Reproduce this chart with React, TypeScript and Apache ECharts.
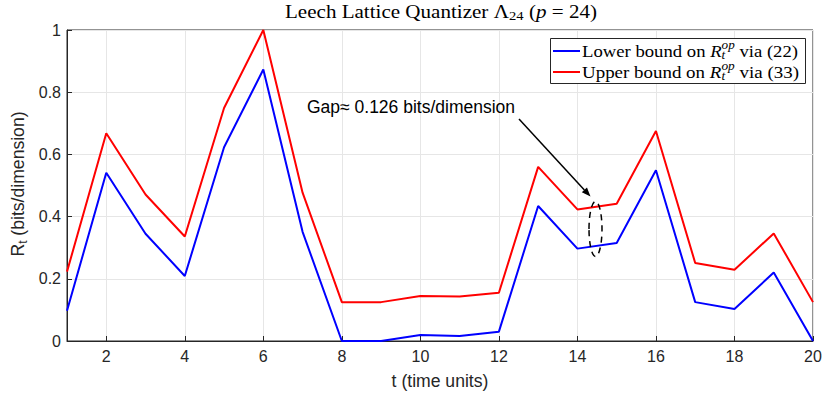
import React, { useEffect, useRef } from "react";
import * as echarts from "echarts";

const tValues = [1, 2, 3, 4, 5, 6, 7, 8, 9, 10, 11, 12, 13, 14, 15, 16, 17, 18, 19, 20];
const lowerBound = [0.097, 0.541, 0.345, 0.209, 0.623, 0.873, 0.351, 0, 0, 0.019, 0.016, 0.03, 0.434, 0.297, 0.315, 0.549, 0.125, 0.103, 0.22, 0];
const upperBound = [0.223, 0.668, 0.471, 0.336, 0.749, 1.0, 0.477, 0.125, 0.125, 0.145, 0.143, 0.155, 0.56, 0.423, 0.441, 0.675, 0.251, 0.229, 0.346, 0.125];
const xTickValues = [2, 4, 6, 8, 10, 12, 14, 16, 18, 20];
const titleParts = ["Leech Lattice Quantizer ", "Λ", "24", " (", "p", " = 24)"];
const legendLabels = ["Lower bound on ", " via (22)", "Upper bound on ", " via (33)"];
const annotationText = "Gap≈ 0.126 bits/dimension";

const SERIF = "'Liberation Serif', 'Times New Roman', serif";
const SANS = "'Liberation Sans', Arial, Helvetica, sans-serif";

type Part = { t: string; size: number; italic?: boolean; dy?: number; stack?: boolean };

let measureCtx: CanvasRenderingContext2D | null = null;
function measure(text: string, size: number, family: string, italic?: boolean) {
  if (!measureCtx) measureCtx = document.createElement("canvas").getContext("2d");
  if (!measureCtx) return text.length * size * 0.5;
  measureCtx.font = `${italic ? "italic " : ""}${size}px ${family}`;
  return measureCtx.measureText(text).width;
}

function layoutParts(parts: Part[], family: string, fill: string, z = 0) {
  let x = 0;
  let lastX = 0;
  let lastW = 0;
  const children: any[] = [];
  for (const p of parts) {
    const w = measure(p.t, p.size, family, p.italic);
    let px: number;
    if (p.stack) {
      px = lastX;
      x = lastX + Math.max(lastW, w);
    } else {
      px = x;
      lastX = x;
      lastW = w;
      x += w;
    }
    children.push({
      type: "text",
      x: px,
      y: p.dy || 0,
      z,
      style: {
        text: p.t,
        fontSize: p.size,
        fontFamily: family,
        fontStyle: p.italic ? "italic" : "normal",
        fill,
        align: "left",
        verticalAlign: "middle",
      },
    });
  }
  return { children, width: x };
}

export default function App() {
  const ref = useRef<HTMLDivElement>(null);

  useEffect(() => {
    if (!ref.current) return;
    const chart = echarts.init(ref.current, null, { renderer: "svg" });

    const title = layoutParts(
      [
        { t: titleParts[0], size: 18 },
        { t: titleParts[1], size: 18 },
        { t: titleParts[2], size: 12.5, dy: 4 },
        { t: titleParts[3], size: 18 },
        { t: titleParts[4], size: 18, italic: true },
        { t: titleParts[5], size: 18 },
      ],
      SERIF,
      "#000",
      5
    );
    const titleW = 312;
    const titleScale = titleW / title.width;

    const legendRow = (a: string, b: string) =>
      layoutParts(
        [
          { t: a, size: 17 },
          { t: "R", size: 17, italic: true },
          { t: "t", size: 12, italic: true, dy: 4 },
          { t: "op", size: 12, italic: true, dy: -6, stack: true },
          { t: b, size: 17 },
        ],
        SERIF,
        "#000",
        12
      );
    const row1 = legendRow(legendLabels[0], legendLabels[1]);
    const row2 = legendRow(legendLabels[2], legendLabels[3]);
    const s1 = 216 / row1.width;
    const s2 = 217 / row2.width;

    const ylab = layoutParts(
      [
        { t: "R", size: 17.6 },
        { t: "t", size: 12, dy: 5 },
        { t: " (bits/dimension)", size: 17.6 },
      ],
      SANS,
      "#262626",
      5
    );

    // arrow geometry
    const ax0 = 519, ay0 = 119, ax1 = 590.5, ay1 = 196.5;
    const dx = ax1 - ax0, dy = ay1 - ay0;
    const len = Math.sqrt(dx * dx + dy * dy);
    const ux = dx / len, uy = dy / len;
    const hl = 9, hw = 3.5;
    const bx = ax1 - ux * hl, by = ay1 - uy * hl;

    chart.setOption({
      animation: false,
      backgroundColor: "#fff",
      grid: {
        left: 67,
        right: 17,
        top: 30,
        bottom: 53,
        show: true,
        borderColor: "#262626",
        borderWidth: 1,
        backgroundColor: "transparent",
      },
      xAxis: {
        type: "value",
        min: 1,
        max: 20,
        name: "t (time units)",
        nameLocation: "middle",
        nameGap: 31,
        nameTextStyle: { fontSize: 17.6, fontFamily: SANS, color: "#262626" },
        axisLine: { show: true, lineStyle: { color: "#262626", width: 1 } },
        axisTick: { show: true, inside: true, length: 5, customValues: xTickValues, lineStyle: { color: "#262626" } },
        axisLabel: { customValues: xTickValues, fontSize: 16, fontFamily: SANS, color: "#262626", margin: 7 },
        splitLine: { show: true, lineStyle: { color: "#e6e6e6", width: 1 } },
      },
      yAxis: {
        type: "value",
        min: 0,
        max: 1,
        interval: 0.2,
        axisLine: { show: true, lineStyle: { color: "#262626", width: 1 } },
        axisTick: { show: true, inside: true, length: 5, lineStyle: { color: "#262626" } },
        axisLabel: {
          fontSize: 16,
          fontFamily: SANS,
          color: "#262626",
          margin: 6,
          formatter: (v: number) => String(+v.toFixed(1)),
        },
        splitLine: { show: true, lineStyle: { color: "#e6e6e6", width: 1 } },
      },
      series: [
        {
          type: "line",
          name: "lower",
          data: tValues.map((t, i) => [t, lowerBound[i]]),
          showSymbol: false,
          lineStyle: { color: "#0000ff", width: 2 },
          itemStyle: { color: "#0000ff" },
          z: 3,
        },
        {
          type: "line",
          name: "upper",
          data: tValues.map((t, i) => [t, upperBound[i]]),
          showSymbol: false,
          lineStyle: { color: "#ff0000", width: 2 },
          itemStyle: { color: "#ff0000" },
          z: 4,
        },
      ],
      graphic: [
        { type: "group", x: 441 - titleW / 2, y: 12, scaleX: titleScale, children: title.children },
        {
          type: "group",
          x: 18,
          y: 184 + ylab.width / 2,
          rotation: Math.PI / 2,
          children: ylab.children,
        },
        {
          type: "rect",
          shape: { x: 550.5, y: 38.5, width: 255, height: 45 },
          style: { fill: "#fff", stroke: "#262626", lineWidth: 1 },
          z: 10,
        },
        { type: "line", shape: { x1: 553, y1: 51, x2: 580, y2: 51 }, style: { stroke: "#0000ff", lineWidth: 2 }, z: 11 },
        { type: "line", shape: { x1: 553, y1: 72, x2: 580, y2: 72 }, style: { stroke: "#ff0000", lineWidth: 2 }, z: 11 },
        { type: "group", x: 582, y: 51, scaleX: s1, children: row1.children, z: 12 },
        { type: "group", x: 582, y: 72, scaleX: s2, children: row2.children, z: 12 },
        {
          type: "text",
          x: 307,
          y: 107,
          style: { text: annotationText, fontSize: 17.5, fontFamily: SANS, fill: "#000", align: "left", verticalAlign: "middle" },
          z: 10,
        },
        {
          type: "line",
          shape: { x1: ax0, y1: ay0, x2: bx, y2: by },
          style: { stroke: "#000", lineWidth: 1.5 },
          z: 10,
        },
        {
          type: "polygon",
          shape: {
            points: [
              [ax1, ay1],
              [bx - uy * hw, by + ux * hw],
              [bx + uy * hw, by - ux * hw],
            ],
          },
          style: { fill: "#000" },
          z: 10,
        },
        {
          type: "ellipse",
          shape: { cx: 595.5, cy: 229, rx: 6.5, ry: 27.5 },
          style: { fill: "none", stroke: "#000", lineWidth: 1.5, lineDash: [6, 5] },
          z: 10,
        },
      ],
    });

    return () => chart.dispose();
  }, []);

  return <div ref={ref} style={{ width: 830, height: 395, position: "absolute", left: 0, top: 0 }} />;
}
